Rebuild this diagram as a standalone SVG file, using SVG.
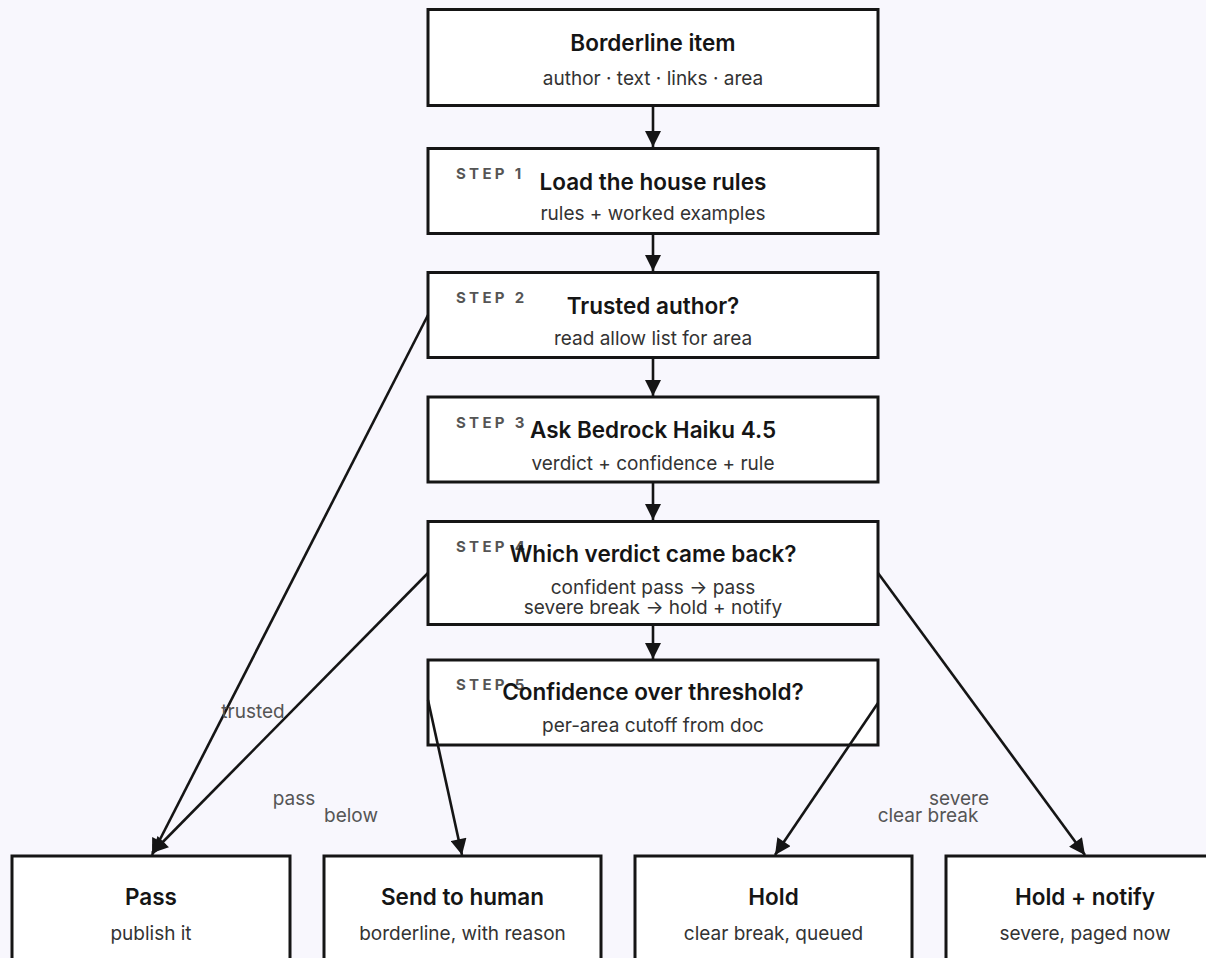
<svg xmlns="http://www.w3.org/2000/svg" width="1206" height="958" viewBox="0 0 1206 958">
<style>
.bg{fill:#f8f7fd}
.box{fill:#ffffff;stroke:#151515;stroke-width:3}
.t{font-family:Inter,"Liberation Sans",sans-serif;font-size:22.5px;font-weight:600;fill:#151515;text-anchor:middle}
.s{font-family:Inter,"Liberation Sans",sans-serif;font-size:19px;fill:#333;text-anchor:middle}
.st{font-family:Inter,"Liberation Sans",sans-serif;font-size:15px;font-weight:700;fill:#555;letter-spacing:3.3px}
.e{fill:none;stroke:#151515;stroke-width:2.6}
.el{font-family:Inter,"Liberation Sans",sans-serif;font-size:19px;fill:#555;text-anchor:middle}
</style>
<defs>
<marker id="ah" viewBox="0 0 10 10" refX="10" refY="5" markerWidth="17" markerHeight="16" markerUnits="userSpaceOnUse" orient="auto">
<path d="M0,0 L10,5 L0,10 Z" fill="#151515"/>
</marker>
</defs>
<rect class="bg" x="0" y="0" width="1206" height="958"/>
<g id="nodes">
<g id="n-item">
<rect class="box" x="428" y="9.5" width="450" height="96"/>
<text class="t" x="653" y="51">Borderline item</text>
<text class="s" x="653" y="85">author · text · links · area</text>
</g>
<g id="n-step1">
<rect class="box" x="428" y="148.5" width="450" height="85"/>
<text class="st" x="456" y="179">STEP 1</text>
<text class="t" x="653" y="190">Load the house rules</text>
<text class="s" x="653" y="220">rules + worked examples</text>
</g>
<g id="n-step2">
<rect class="box" x="428" y="272.5" width="450" height="85"/>
<text class="st" x="456" y="303">STEP 2</text>
<text class="t" x="653" y="314">Trusted author?</text>
<text class="s" x="653" y="345">read allow list for area</text>
</g>
<g id="n-step3">
<rect class="box" x="428" y="397" width="450" height="85"/>
<text class="st" x="456" y="428">STEP 3</text>
<text class="t" x="653" y="438">Ask Bedrock Haiku 4.5</text>
<text class="s" x="653" y="470">verdict + confidence + rule</text>
</g>
<g id="n-step4">
<rect class="box" x="428" y="521.5" width="450" height="103"/>
<text class="st" x="456" y="552">STEP 4</text>
<text class="t" x="653" y="562">Which verdict came back?</text>
<text class="s" x="653" y="594">confident pass → pass</text>
<text class="s" x="653" y="614">severe break → hold + notify</text>
</g>
<g id="n-step5">
<rect class="box" x="428" y="660" width="450" height="85"/>
<text class="st" x="456" y="690">STEP 5</text>
<text class="t" x="653" y="700">Confidence over threshold?</text>
<text class="s" x="653" y="732">per-area cutoff from doc</text>
</g>
<g id="n-pass">
<rect class="box" x="12" y="856" width="278" height="110"/>
<text class="t" x="151" y="905">Pass</text>
<text class="s" x="151" y="940">publish it</text>
</g>
<g id="n-human">
<rect class="box" x="324" y="856" width="277" height="110"/>
<text class="t" x="462.5" y="905">Send to human</text>
<text class="s" x="462.5" y="940">borderline, with reason</text>
</g>
<g id="n-hold">
<rect class="box" x="635" y="856" width="277" height="110"/>
<text class="t" x="773.5" y="905">Hold</text>
<text class="s" x="773.5" y="940">clear break, queued</text>
</g>
<g id="n-notify">
<rect class="box" x="946" y="856" width="278" height="110"/>
<text class="t" x="1085" y="905">Hold + notify</text>
<text class="s" x="1085" y="940">severe, paged now</text>
</g>
</g>
<g id="connectors">
<path class="e" d="M653,106 L653,147" marker-end="url(#ah)"/>
<path class="e" d="M653,234 L653,271" marker-end="url(#ah)"/>
<path class="e" d="M653,358 L653,396" marker-end="url(#ah)"/>
<path class="e" d="M653,482 L653,520" marker-end="url(#ah)"/>
<path class="e" d="M653,625 L653,659" marker-end="url(#ah)"/>
<path class="e" d="M428,315 L152,855" marker-end="url(#ah)"/>
<path class="e" d="M428,573 L152,853" marker-end="url(#ah)"/>
<path class="e" d="M428,700 L462,855" marker-end="url(#ah)"/>
<path class="e" d="M878,703 L775,855" marker-end="url(#ah)"/>
<path class="e" d="M878,573 L1085,855" marker-end="url(#ah)"/>
<text class="el" x="253" y="718">trusted</text>
<text class="el" x="294" y="805">pass</text>
<text class="el" x="351" y="822">below</text>
<text class="el" x="959" y="805">severe</text>
<text class="el" x="928" y="822">clear break</text>
</g>
</svg>
